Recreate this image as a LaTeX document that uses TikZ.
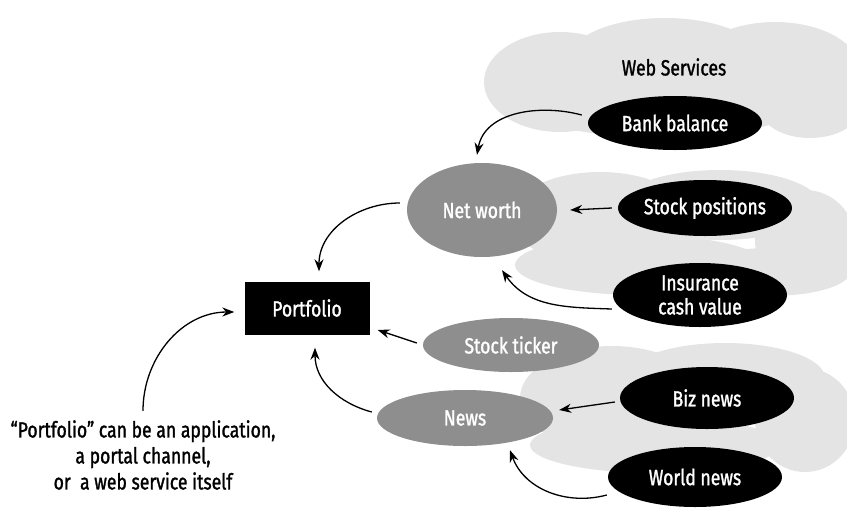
\documentclass[tikz,border=0pt]{standalone}
\usepackage{fontspec}
\setmainfont{Fira Sans}[FakeStretch=0.8,FakeBold=1.3]
\usetikzlibrary{shapes.geometric,arrows.meta}
\definecolor{cloudgray}{HTML}{E4E4E4}
\definecolor{midgray}{HTML}{8E8E8E}
\tikzset{
  txt/.style={font=\fontsize{22}{24}\selectfont},
  cloudpart/.style={fill=cloudgray,draw=none},
  darknode/.style={ellipse,fill=black,text=white,inner sep=0pt,txt,align=center},
  graynode/.style={ellipse,fill=midgray,text=white,inner sep=0pt,txt},
  boxnode/.style={rectangle,fill=black,text=white,inner sep=0pt,minimum width=125pt,minimum height=53pt,txt},
  arr/.style={-{Stealth[length=12pt,width=9pt]},line width=1.3pt},
}
\begin{document}
\begin{tikzpicture}[x=1pt,y=1pt]
\useasboundingbox (0,0) rectangle (847,-507);
% clouds
\fill[cloudpart] (560,-82) ellipse[x radius=76,y radius=50];
\fill[cloudpart] (665,-58) ellipse[x radius=95,y radius=40];
\fill[cloudpart] (775,-70) ellipse[x radius=85,y radius=48];
\fill[cloudpart] (660,-105) ellipse[x radius=140,y radius=32];
\fill[cloudpart] (810,-108) ellipse[x radius=50,y radius=30];
\fill[cloudpart] (600,-218) ellipse[x radius=90,y radius=46];
\fill[cloudpart] (720,-205) ellipse[x radius=100,y radius=35];
\fill[cloudpart] (805,-240) ellipse[x radius=50,y radius=50];
\fill[cloudpart] (640,-265) ellipse[x radius=125,y radius=30];
\fill[cloudpart] (770,-272) ellipse[x radius=80,y radius=24];
\fill[cloudpart] (612,-398) ellipse[x radius=92,y radius=52];
\fill[cloudpart] (725,-378) ellipse[x radius=100,y radius=35];
\fill[cloudpart] (805,-420) ellipse[x radius=50,y radius=52];
\fill[cloudpart] (655,-445) ellipse[x radius=125,y radius=28];
% nodes
\node[txt] (ws) at (674,-67) {Web Services};
\node[darknode,minimum width=174pt,minimum height=54pt] (bb) at (675,-123) {Bank balance};
\node[graynode,minimum width=150pt,minimum height=94pt] (nw) at (482,-210) {Net worth};
\node[darknode,minimum width=174pt,minimum height=56pt] (sp) at (705,-208) {Stock positions};
\node[darknode,minimum width=174pt,minimum height=64pt] (ic) at (700,-295) {Insurance\\cash value};
\node[graynode,minimum width=176pt,minimum height=54pt] (st) at (511,-345) {Stock ticker};
\node[graynode,minimum width=176pt,minimum height=56pt] (nv) at (465,-418) {News};
\node[darknode,minimum width=174pt,minimum height=62pt] (bn) at (707,-398) {Biz news};
\node[darknode,minimum width=174pt,minimum height=60pt] (wn) at (695,-477) {World news};
\node[boxnode] (pf) at (307,-308) {Portfolio};
\node[align=center,font=\fontsize{22}{26}\selectfont] (cap) at (143,-455) {“Portfolio” can be an application,\\a portal channel,\\or\ \ a web service itself};
% connectors
\draw[arr] ([xshift=-6pt,yshift=8pt]bb.west) to[out=165,in=80] ([xshift=-5pt,yshift=8pt]nw.north);
\draw[arr] ([xshift=-6pt]sp.west) -- ([xshift=13pt]nw.east);
\draw[arr] ([xshift=-1pt,yshift=-14pt]ic.west) to[out=178,in=-55] ([xshift=20pt,yshift=-13pt]nw.south);
\draw[arr] ([xshift=-7pt,yshift=7pt]nw.west) to[out=180,in=90] ([xshift=12pt,yshift=10pt]pf.north);
\draw[arr] ([xshift=-6pt,yshift=2pt]st.west) -- ([xshift=8pt,yshift=-22pt]pf.east);
\draw[arr] ([xshift=-5pt,yshift=6pt]nv.west) to[out=165,in=-90] ([xshift=8pt,yshift=-13pt]pf.south);
\draw[arr] ([xshift=-5pt,yshift=-4pt]bn.west) -- ([xshift=6pt,yshift=8pt]nv.east);
\draw[arr] ([xshift=-1pt,yshift=-18pt]wn.west) to[out=195,in=-70] ([xshift=45pt,yshift=-4pt]nv.south);
\draw[arr] ([yshift=6pt]cap.north) to[out=90,in=180] ([xshift=-10pt,yshift=-4pt]pf.west);
\end{tikzpicture}
\end{document}
